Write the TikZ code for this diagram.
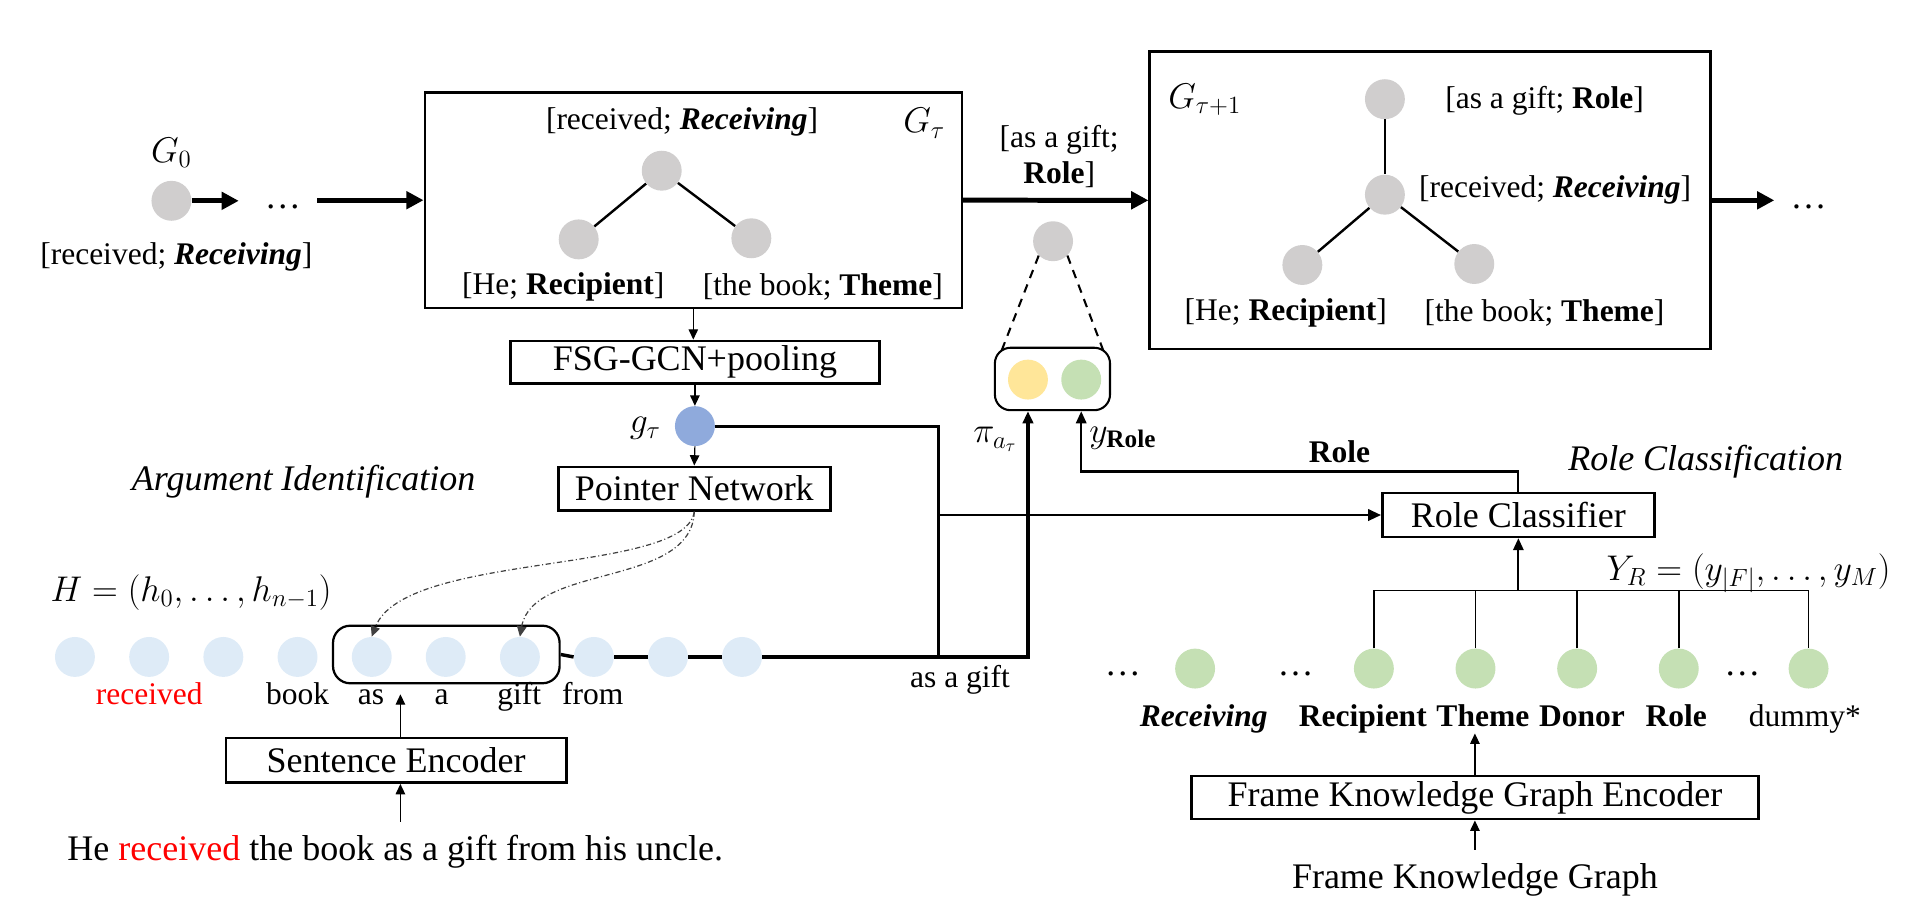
\documentclass[tikz,border=0pt]{standalone}
\usepackage{fontspec}
\setmainfont{Liberation Serif}
\usetikzlibrary{arrows.meta,calc}
\definecolor{ngrey}{HTML}{D0CECE}
\definecolor{hblue}{HTML}{DEEBF7}
\definecolor{nblue}{HTML}{8FAADC}
\definecolor{nyellow}{HTML}{FFE699}
\definecolor{ngreen}{HTML}{C5E0B4}
\definecolor{red}{HTML}{FF0000}
\begin{document}
\begin{tikzpicture}[x=0.025cm,y=-0.025cm,
  every node/.style={font=\fontsize{20.9}{25}\selectfont, inner sep=0pt},
  lab/.style={font=\fontsize{18.3}{21}\selectfont},
  circ/.style={circle, minimum size=0.815cm, inner sep=0pt},
  gnode/.style={circ, fill=ngrey},
  box/.style={draw, line width=1.5pt},
  edge/.style={line width=1.4pt},
  thickarr/.style={line width=2.9pt, -{Triangle[length=10pt,width=10pt]}},
  thinarr/.style={line width=0.7pt, -{Triangle[length=6pt,width=5.5pt]}},
  midarr/.style={line width=1.6pt, -{Triangle[length=7.5pt,width=6.5pt]}},
  hline/.style={line width=2pt},
  gline/.style={line width=1.6pt},
  roleline/.style={line width=1.3pt, -{Triangle[length=7pt,width=6pt]}},
  dashline/.style={line width=1.2pt, dash pattern=on 5pt off 4pt},
  curvearr/.style={line width=0.7pt, black!75, dash pattern=on 3pt off 1.5pt on 0.6pt off 1.5pt, -{Triangle[length=6pt,width=5.5pt]}},
  tree/.style={line width=0.9pt},
]
\useasboundingbox (0,0) rectangle (1568,749);

% ---- G0 ----
\node[gnode] (g0) at (140,164) {};
\node (g0lab) at (140,125) {$G_0$};
\node[lab] (g0txt) at (144,210) {[received; \textbf{\textit{Receiving}}]};
\coordinate (a1) at (195,164);
\draw[thickarr] (g0) -- (a1);
\node (dots0) at (231,169) {\dots};

% ---- G tau box ----
\node[box, minimum width=10.96cm, minimum height=4.405cm] (Gt) at (566.2,163.5) {};
\coordinate (a2) at (259,163.5);
\draw[thickarr] (a2) -- (Gt.west);
\node[lab] (gtr) at (557,99.4) {[received; \textbf{\textit{Receiving}}]};
\node (Gtlab) at (754.8,100.7) {$G_\tau$};
\node[gnode] (t1) at (540.4,139.4) {};
\node[gnode] (t2) at (472.6,195.5) {};
\node[gnode] (t3) at (613.6,194.6) {};
\draw[edge] (t1) -- (t2);
\draw[edge] (t1) -- (t3);
\node[lab] (gth) at (460,234.7) {[He; \textbf{Recipient}]};
\node[lab] (gtb) at (672,234.7) {[the book; \textbf{Theme}]};

% ---- middle ----
\node[box, minimum width=11.45cm, minimum height=6.07cm] (Gt1) at (1168,163.6) {};
\draw[thickarr] (Gt.east) -- (Gt1.west);
\node[lab, align=center] (asg) at (865,128) {[as a gift;\\\textbf{Role}]};
\node[gnode] (mid) at (860,197) {};
\node[draw, line width=1.2pt, rounded corners=0.32cm, minimum width=2.35cm, minimum height=1.275cm] (pill) at (859.5,309.5) {};
\node[circ, fill=nyellow] (py) at (839.5,310) {};
\node[circ, fill=ngreen] (pg) at (883,310) {};
\draw[dashline] (mid.south west) -- ([shift={(6,4)}]pill.north west);
\draw[dashline] (mid.south east) -- ([shift={(-6,4)}]pill.north east);

% ---- G tau+1 box ----
\node (Gt1lab) at (983.8,81.7) {$G_{\tau+1}$};
\node[gnode] (u1) at (1131,81) {};
\node[gnode] (u2) at (1131,159) {};
\node[gnode] (u3) at (1063.6,216.4) {};
\node[gnode] (u4) at (1204,215.6) {};
\draw[edge] (u1) -- (u2);
\draw[edge] (u2) -- (u3);
\draw[edge] (u2) -- (u4);
\node[lab] (ua) at (1261.4,82.5) {[as a gift; \textbf{Role}]};
\node[lab] (ur) at (1270,155) {[received; \textbf{\textit{Receiving}}]};
\node[lab] (uh) at (1050,255.8) {[He; \textbf{Recipient}]};
\node[lab] (ub) at (1261.4,255.8) {[the book; \textbf{Theme}]};
\coordinate (a3) at (1449,163.6);
\draw[thickarr] (Gt1.east) -- (a3);
\node (dots1) at (1477,169) {\dots};

% ---- FSG / pointer ----
\node[box, minimum width=7.525cm, minimum height=0.865cm] (fsg) at (567.5,295.7) {FSG-GCN+pooling};
\draw[thinarr] (Gt.south) -- (Gt.south |- fsg.north);
\node[circ, fill=nblue] (gt) at (567.5,348) {};
\node (gtlab) at (527,350) {$g_\tau$};
\node[box, minimum width=5.55cm, minimum height=0.8875cm] (pn) at (567,399) {Pointer Network};
\draw[thinarr] (fsg.south) -- (gt.north);
\draw[thinarr] (gt.south) -- (pn.north);
\node (argid) at (248,393.5) {\textit{Argument Identification}};

% ---- H row ----
\node (Hlab) at (156,484) {$H=(h_0,\ldots,h_{n-1})$};
\foreach \i/\x in {1/61.2,2/121.8,3/182.4,4/243,5/303.6,6/364,7/424.6,8/485,9/545.5,10/606}
  \node[circ, fill=hblue] (h\i) at (\x,536.5) {};
\node[lab, anchor=base] (w2) at (121.8,575) {\textcolor{red}{received}};
\node[lab, anchor=base] (w4) at (243,575) {book};
\node[lab, anchor=base] (w5) at (303,575) {as};
\node[lab, anchor=base] (w6) at (360.7,575) {a};
\node[lab, anchor=base] (w7) at (424,575) {gift};
\node[lab, anchor=base] (w8) at (484,575) {from};
\node[draw, line width=1.3pt, rounded corners=0.35cm, minimum width=4.625cm, minimum height=1.175cm] (span) at (364.5,534.5) {};
\draw[curvearr] (pn.south) .. controls (560,470) and (330,450) .. (h5.north);
\draw[curvearr] (pn.south) .. controls (565,480) and (435,460) .. (h7.north);
\draw[hline] (span.east) -- (h8.west);
\draw[hline] (h8.east) -- (h9.west);
\draw[hline] (h9.east) -- (h10.west);
\coordinate (j1) at (766.5,536.5);
\coordinate (j2) at (839.5,536.5);
\draw[hline, -{Triangle[length=7pt,width=6pt]}] (h10.east) -- (j2) -- (py |- pill.south);
\node[lab] (asag) at (784,555) {as a gift};
\node (pilab) at (812.7,359) {$\pi_{a_\tau}$};
\node (yrlab) at (917,358) {$y_{\mathbf{Role}}$};

% ---- sentence encoder ----
\node[box, minimum width=6.95cm, minimum height=0.9075cm] (se) at (323.5,621) {Sentence Encoder};
\coordinate (st) at (327,567);
\draw[thinarr] (st |- se.north) -- (st);
\coordinate (sb) at (327,671);
\draw[thinarr] (sb) -- (sb |- se.south);
\node (sent) at (322.8,695.5) {He \textcolor{red}{received} the book as a gift from his uncle.};

% ---- role classifier ----
\node[box, minimum width=5.55cm, minimum height=0.8925cm] (rc) at (1240,420.6) {Role Classifier};
\draw[gline] (gt.east) -| (j1);
\draw[midarr] (j1 |- rc.west) -- (rc.west);
\coordinate (rl) at (1240,385);
\draw[roleline] (rc.north) -- (rl) -| (pg |- pill.south);
\node[lab] (rolelab) at (1094,369) {\textbf{Role}};
\node (rcl) at (1393,377) {\textit{Role Classification}};
\node (yr) at (1428,468) {$Y_R=(y_{|F|},\ldots,y_M)$};

% ---- frame nodes ----
\foreach \n/\x in {f1/976,f2/1122,f3/1205,f4/1288,f5/1371,f6/1477}
  \node[circ, fill=ngreen] (\n) at (\x,546) {};
\node (fd1) at (917,550) {\dots};
\node (fd2) at (1058,550) {\dots};
\node (fd3) at (1423,550) {\dots};
\coordinate (tl) at (1122,482.4);
\draw[tree] (f2.north) -- (f2.north |- tl) -- (f6.north |- tl) -- (f6.north);
\draw[tree] (f3.north) -- (f3.north |- tl);
\draw[tree] (f4.north) -- (f4.north |- tl);
\draw[tree] (f5.north) -- (f5.north |- tl);
\draw[line width=1.3pt, -{Triangle[length=7pt,width=6pt]}] (rc.south |- tl) -- (rc.south);
\node[lab, anchor=base] (l1) at (983,593) {\textbf{\textit{Receiving}}};
\node[lab, anchor=base] (l2) at (1113,593) {\textbf{Recipient}};
\node[lab, anchor=base] (l3) at (1211,593) {\textbf{Theme}};
\node[lab, anchor=base] (l4) at (1292,593) {\textbf{Donor}};
\node[lab, anchor=base] (l5) at (1369,593) {\textbf{Role}};
\node[lab, anchor=base] (l6) at (1474,593) {dummy*};

% ---- frame KG encoder ----
\node[box, minimum width=11.58cm, minimum height=0.88cm] (fkge) at (1204.5,651.4) {Frame Knowledge Graph Encoder};
\coordinate (ft) at (1204.5,599);
\draw[thinarr] (fkge.north) -- (ft);
\coordinate (fb) at (1204.5,694);
\draw[thinarr] (fb) -- (fkge.south);
\node (fkg) at (1204.5,718.6) {Frame Knowledge Graph};
\end{tikzpicture}
\end{document}
